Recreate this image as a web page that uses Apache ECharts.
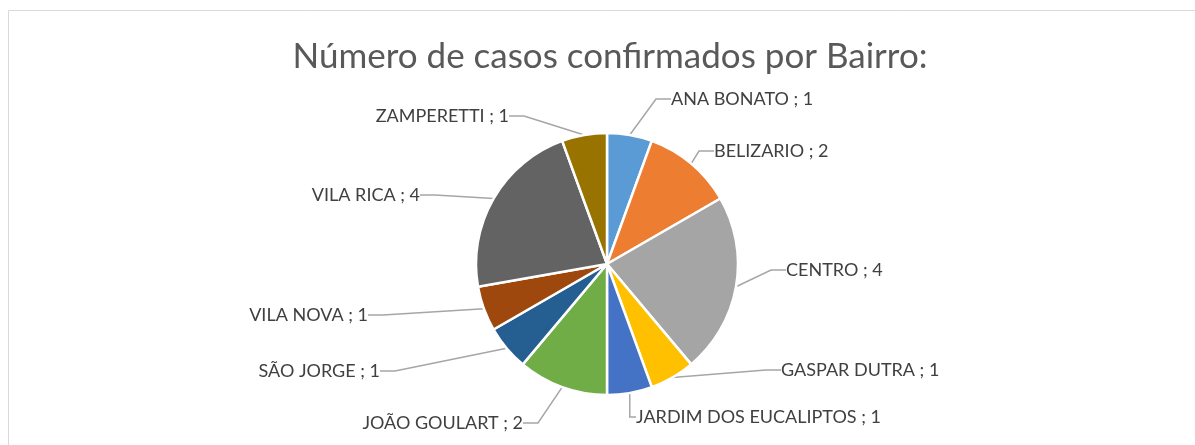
<!DOCTYPE html>
<html><head><meta charset="utf-8">
<script src="https://cdn.jsdelivr.net/npm/echarts@6/dist/echarts.min.js"></script>
<style>html,body{margin:0;padding:0;background:#fff}#c{width:1195px;height:445px}</style>
</head><body><div id="c"></div>
<script>
var titleText = 'Número de casos confirmados por Bairro:';
var categories = ['ANA BONATO','BELIZARIO','CENTRO','GASPAR DUTRA','JARDIM DOS EUCALIPTOS','JOÃO GOULART','SÃO JORGE','VILA NOVA','VILA RICA','ZAMPERETTI'];
var values = [1,2,4,1,1,2,1,1,4,1];
var colors = ['#5B9BD5','#ED7D31','#A5A5A5','#FFC000','#4472C4','#70AD47','#255E91','#9E480E','#636363','#997300'];

// label anchor placement (layout, not data)
var labelPos = [
  [668,99,'left'],[711,151,'left'],[783,270,'left'],[778,370,'left'],[633,417,'left'],
  [526,423,'right'],[383,371,'right'],[371,315,'right'],[423,195,'right'],[512,116,'right']
];

var FONT = "Lato";
var chart = echarts.init(document.getElementById('c'));
chart.setOption({
  animation:false,
  color: colors,
  graphic:[{type:'rect',shape:{x:8.5,y:10.5,width:1300,height:500},style:{fill:'none',stroke:'#D9D9D9',lineWidth:1},silent:true}],
  title:{text:titleText,left:605,top:34,textAlign:'center',textStyle:{fontFamily:FONT,fontSize:35,fontWeight:'normal',color:'#595959'}},
  series:[{
    type:'pie',
    center:[607,264],
    radius:[0,131],
    startAngle:90,
    clockwise:true,
    itemStyle:{borderColor:'#fff',borderWidth:2.5},
    label:{show:true,formatter:'{b} ; {c}',fontFamily:FONT,fontSize:18,color:'#404040',padding:[0,3]},
    labelLine:{show:true,length:20,length2:15,lineStyle:{color:'#A6A6A6',width:1.5}},
    labelLayout:function(p){
      var q = labelPos[p.dataIndex];
      return {x:q[0],y:q[1],align:q[2],verticalAlign:'middle'};
    },
    data: categories.map(function(n,i){return {name:n,value:values[i]};})
  }]
});
</script></body></html>
